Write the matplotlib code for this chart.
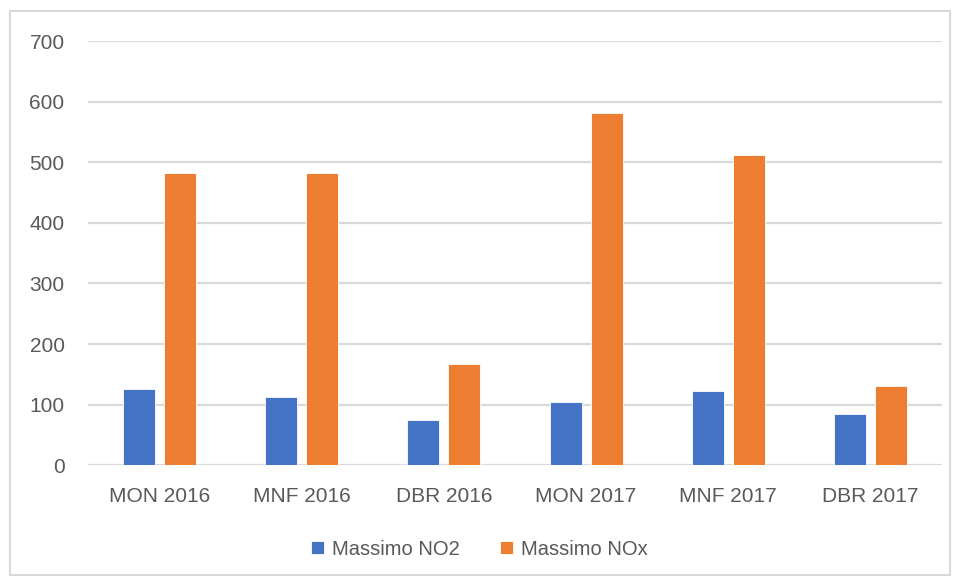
import matplotlib.pyplot as plt
import numpy as np
from matplotlib.patches import Rectangle

categories = ["MON 2016", "MNF 2016", "DBR 2016", "MON 2017", "MNF 2017", "DBR 2017"]
no2 = [125, 112, 74, 105, 122, 84]
nox = [483, 483, 167, 582, 512, 131]
yticks = [0, 100, 200, 300, 400, 500, 600, 700]

plt.rcParams['font.family'] = ['Liberation Sans', 'DejaVu Sans']

fig = plt.figure(figsize=(9.59, 5.8), dpi=100)
ax = fig.add_axes([0.092, 0.198, 0.890, 0.731])

x = np.arange(len(categories))
w = 0.225
off = 0.144
ax.bar(x - off, no2, w, color="#4472C4", edgecolor="white", linewidth=0.6, label="Massimo NO2", zorder=3)
ax.bar(x + off, nox, w, color="#ED7D31", edgecolor="white", linewidth=0.6, label="Massimo NOx", zorder=3)

ax.set_xlim(-0.5, len(categories) - 0.5)
ax.set_ylim(0, 700)
ax.set_yticks(yticks)
ax.set_xticks(x)
ax.set_xticklabels(categories)
ax.grid(axis="y", color="#D9D9D9", linewidth=1.6, zorder=0)
for s in ax.spines.values():
    s.set_visible(False)
ax.tick_params(axis="both", length=0, labelsize=15, colors="#595959")
ax.tick_params(axis="y", pad=17)
ax.tick_params(axis="x", pad=16)

fig.legend(loc="center", bbox_to_anchor=(0.5, 0.053), ncol=2, frameon=False,
           fontsize=14.5, handlelength=0.65, handleheight=0.65, handletextpad=0.4,
           columnspacing=2.0, labelcolor="#595959")

fig.patches.append(Rectangle((10 / 959, 5 / 580), 940 / 959, 564 / 580, transform=fig.transFigure,
                             fill=False, edgecolor="#D9D9D9", linewidth=1.5))

fig.savefig("out.png", dpi=100)
